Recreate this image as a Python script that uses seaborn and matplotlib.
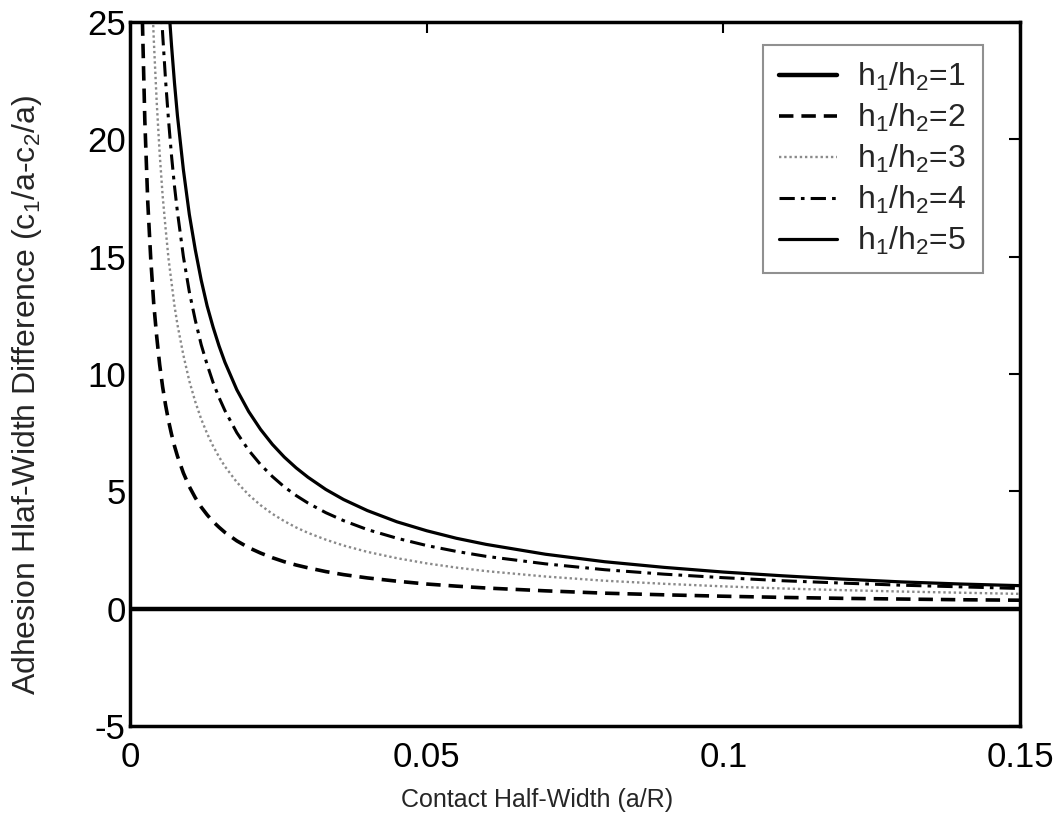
import numpy as np
import pandas as pd
import matplotlib
matplotlib.use("Agg")
import matplotlib.pyplot as plt
import seaborn as sns

# ---- data ----
contact_half_width = [0.0015, 0.002, 0.0025, 0.003, 0.0035, 0.004, 0.0045, 0.005, 0.0055, 0.006,
                      0.0065, 0.007, 0.0075, 0.008, 0.009, 0.010, 0.011, 0.012, 0.013, 0.014,
                      0.015, 0.016, 0.018, 0.020, 0.022, 0.024, 0.026, 0.028, 0.030, 0.033,
                      0.036, 0.040, 0.045, 0.050, 0.055, 0.060, 0.070, 0.080, 0.090, 0.100,
                      0.110, 0.120, 0.130, 0.140, 0.150]
ratio_1_x = [0.0, 0.15]
ratio_1 = [0.0, 0.0]
ratio_2 = [34.7, 26.0, 20.8, 17.3, 14.9, 13.0, 11.6, 10.4, 9.45, 8.67,
           8.0, 7.43, 6.93, 6.5, 5.78, 5.2, 4.73, 4.33, 4.0, 3.71,
           3.47, 3.25, 2.89, 2.6, 2.37, 2.17, 2.0, 1.86, 1.74, 1.58,
           1.45, 1.31, 1.17, 1.05, 0.96, 0.88, 0.76, 0.66, 0.59, 0.53,
           0.48, 0.44, 0.41, 0.38, 0.36]
ratio_3 = [64.7, 48.5, 38.8, 32.3, 27.7, 24.3, 21.6, 19.4, 17.6, 16.2,
           14.9, 13.9, 12.9, 12.1, 10.8, 9.7, 8.82, 8.08, 7.46, 6.93,
           6.47, 6.06, 5.39, 4.85, 4.41, 4.04, 3.73, 3.46, 3.23, 2.94,
           2.69, 2.42, 2.15, 1.93, 1.75, 1.6, 1.37, 1.19, 1.06, 0.95,
           0.86, 0.79, 0.73, 0.68, 0.63]
ratio_4 = [90.0, 67.5, 54.0, 45.0, 38.6, 33.8, 30.0, 27.0, 24.5, 22.5,
           20.8, 19.3, 18.0, 16.9, 15.0, 13.5, 12.3, 11.25, 10.4, 9.64,
           9.0, 8.44, 7.5, 6.75, 6.14, 5.63, 5.19, 4.82, 4.5, 4.09,
           3.75, 3.37, 3.0, 2.69, 2.44, 2.23, 1.91, 1.66, 1.47, 1.32,
           1.19, 1.09, 1.0, 0.93, 0.86]
ratio_5 = [112.0, 84.0, 67.2, 56.0, 48.0, 42.0, 37.3, 33.6, 30.5, 28.0,
           25.8, 24.0, 22.4, 21.0, 18.7, 16.8, 15.3, 14.0, 12.9, 12.0,
           11.2, 10.5, 9.33, 8.4, 7.64, 7.0, 6.46, 6.0, 5.6, 5.08,
           4.65, 4.18, 3.7, 3.32, 3.0, 2.74, 2.32, 2.0, 1.76, 1.56,
           1.40, 1.26, 1.14, 1.05, 0.98]
series_labels = [r'h$_1$/h$_2$=1', r'h$_1$/h$_2$=2', r'h$_1$/h$_2$=3',
                 r'h$_1$/h$_2$=4', r'h$_1$/h$_2$=5']
x_ticks = [0, 0.05, 0.1, 0.15]
x_tick_labels = ['0', '0.05', '0.1', '0.15']
y_ticks = [-5, 0, 5, 10, 15, 20, 25]

sns.set_style("white")
plt.rcParams['font.family'] = ['Liberation Sans', 'DejaVu Sans']
plt.rcParams['mathtext.fontset'] = 'custom'
plt.rcParams['mathtext.rm'] = 'Liberation Sans'
plt.rcParams['mathtext.it'] = 'Liberation Sans'
plt.rcParams['mathtext.default'] = 'regular'
plt.rcParams['axes.unicode_minus'] = False

fig = plt.figure(figsize=(10.62, 8.32), dpi=100)
ax = fig.add_axes([0.1224, 0.1274, 0.8381, 0.8462])

styles = [
    dict(color='black', linewidth=3.2, linestyle='-'),
    dict(color='black', linewidth=2.6, linestyle=(0, (4, 2.2))),
    dict(color='#8a8a8a', linewidth=1.7, linestyle=(0, (1, 1.2))),
    dict(color='black', linewidth=2.2, linestyle=(0, (5, 2, 1.2, 2))),
    dict(color='black', linewidth=2.3, linestyle='-'),
]
all_x = [ratio_1_x] + [contact_half_width] * 4
all_series = [ratio_1, ratio_2, ratio_3, ratio_4, ratio_5]
for xs, vals, lab, st in zip(all_x, all_series, series_labels, styles):
    df = pd.DataFrame({'x': xs, 'y': vals})
    sns.lineplot(data=df, x='x', y='y', ax=ax, label=lab, sort=False, **st)

ax.set_xlim(0, 0.15)
ax.set_ylim(-5, 25)
ax.set_xticks(x_ticks)
ax.set_xticklabels(x_tick_labels)
ax.set_yticks(y_ticks)
ax.tick_params(axis='both', direction='in', length=8, width=1.5, labelsize=25,
               top=True, right=True, colors='black')
ax.tick_params(axis='x', pad=11)
ax.tick_params(axis='y', pad=3)
for s in ax.spines.values():
    s.set_linewidth(2.5)
    s.set_color('black')
    s.set_visible(True)

ax.set_xlabel('Contact Half-Width (a/R)', fontsize=18)
ax.xaxis.set_label_coords(0.457, -0.088)
ax.set_ylabel('Adhesion Hlaf-Width Difference (c$_1$/a-c$_2$/a)', fontsize=23)
ax.yaxis.set_label_coords(-0.097, 0.47)

leg = ax.legend(loc='upper right', bbox_to_anchor=(0.958, 0.967), fontsize=23,
                frameon=True, fancybox=False, edgecolor='#909090', framealpha=1,
                handlelength=1.8, handletextpad=0.65, labelspacing=0.28,
                borderpad=0.5, borderaxespad=0)
leg.get_frame().set_linewidth(1.5)

fig.savefig('out.png', dpi=100)
